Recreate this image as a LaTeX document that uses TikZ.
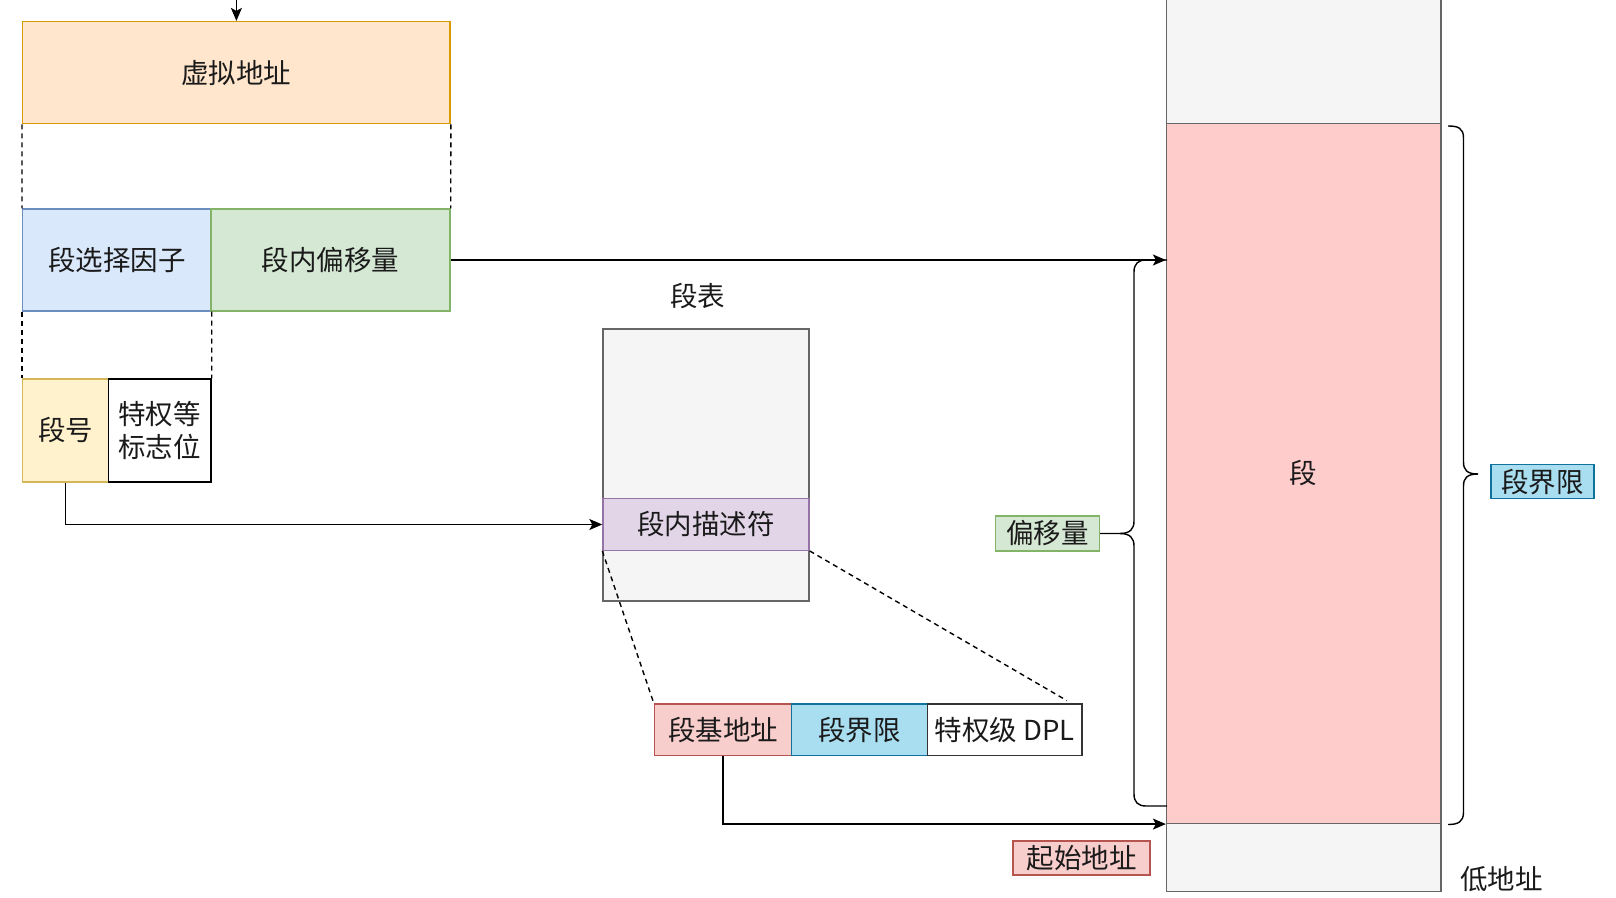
\documentclass[tikz,border=0pt]{standalone}
\usepackage{fontspec}
\setmainfont{Noto Sans CJK SC}
\usetikzlibrary{arrows.meta,calc}
\definecolor{orF}{HTML}{FFE6CC}\definecolor{orD}{HTML}{D79B00}
\definecolor{blF}{HTML}{DAE8FC}\definecolor{blD}{HTML}{6C8EBF}
\definecolor{grF}{HTML}{D5E8D4}\definecolor{grD}{HTML}{82B366}
\definecolor{yeF}{HTML}{FFF2CC}\definecolor{yeD}{HTML}{D6B656}
\definecolor{gyF}{HTML}{F5F5F5}\definecolor{gyD}{HTML}{666666}
\definecolor{puF}{HTML}{E1D5E7}\definecolor{puD}{HTML}{9673A6}
\definecolor{rdF}{HTML}{F8CECC}\definecolor{rdD}{HTML}{B85450}
\definecolor{cyF}{HTML}{A9DDF0}\definecolor{cyD}{HTML}{10739E}
\definecolor{pkF}{HTML}{FFCCCC}
\definecolor{txt}{HTML}{1A1A1A}
\begin{document}
\begin{tikzpicture}[x=1pt,y=-1pt,
  box/.style={draw, line width=1.4pt, inner sep=0pt, text=txt,
    font=\fontsize{27.5}{33}\selectfont, align=center},
  tag/.style={box, line width=1.2pt},
  conn/.style={line width=1.4pt, draw=black},
  arr/.style={conn, -{Stealth[length=13pt,width=11pt,inset=3pt]}},
  dsh/.style={line width=1.4pt, dash pattern=on 5pt off 4pt},
  lbl/.style={inner sep=0pt, text=txt, font=\fontsize{27.5}{33}\selectfont}
]
\useasboundingbox (0,0) rectangle (1616,897);

% virtual address
\node[box, fill=orF, draw=orD, minimum width=427.5pt, minimum height=102pt] (va) at (236.4,72.6) {虚拟地址};
\coordinate (vain) at (236.4,-6);
\draw[arr] (vain) -- (va.north);

\node[box, fill=blF, draw=blD, minimum width=188.3pt, minimum height=102pt] (sel) at (116.9,260) {段选择因子};
\node[box, fill=grF, draw=grD, minimum width=239pt, minimum height=102pt] (off) at (330.5,260) {段内偏移量};

\node[box, fill=yeF, draw=yeD, minimum width=85.5pt, minimum height=103pt] (segno) at (65.5,430.5) {段号};
\node[box, fill=white, draw=black, minimum width=102.8pt, minimum height=103pt] (priv) at (159.6,430.5) {特权等\\标志位};

\draw[dsh] (va.south west) -- (sel.north west);
\draw[dsh] (va.south east) -- (off.north east);
\draw[dsh] (sel.south west) -- (segno.north west);
\draw[dsh] (sel.south east) -- (priv.north east);

% segment table
\node[lbl] (tlab) at (697.7,295.8) {段表};
\node[box, fill=gyF, draw=gyD, minimum width=206pt, minimum height=272pt] (table) at (706,464.8) {};
\node[box, fill=puF, draw=puD, minimum width=206pt, minimum height=51.5pt] (desc) at (706,524.5) {段内描述符};

\draw[arr] (segno.south) |- (desc.west);

% descriptor fields
\node[box, fill=rdF, draw=rdD, minimum width=137pt, minimum height=51.4pt] (base) at (723,729.7) {段基地址};
\node[box, fill=cyF, draw=cyD, minimum width=136pt, minimum height=51.4pt] (lim) at (859.5,729.7) {段界限};
\node[box, fill=white, draw=black!80, minimum width=154.5pt, minimum height=51.4pt] (dpl) at (1004.7,729.7) {特权级 DPL};

\coordinate (dplend) at (1066.7,700.5);
\draw[dsh] (desc.south west) -- (base.north west);
\draw[dsh] (desc.south east) -- (dplend);

% memory
\node[box, fill=gyF, draw=gyD, minimum width=274.2pt, minimum height=133.7pt] (memtop) at (1303.7,56.85) {};
\node[box, fill=pkF, draw=gyD, minimum width=274.2pt, minimum height=699.7pt] (memseg) at (1303.7,473.5) {段};
\node[box, fill=gyF, draw=gyD, minimum width=274.2pt, minimum height=68pt] (membot) at (1303.7,857.5) {};

\draw[arr] (off.east) -- (off.east -| memseg.west);
\draw[arr] (base.south) |- (memseg.south west);

% labels
\node[tag, fill=grF, draw=grD, minimum width=104pt, minimum height=35pt] (offlab) at (1047.6,533.5) {偏移量};
\node[tag, fill=cyF, draw=cyD, minimum width=103pt, minimum height=34pt] (limlab) at (1542.5,481.8) {段界限};
\node[tag, fill=rdF, draw=rdD, minimum width=137pt, minimum height=34pt] (startlab) at (1081.5,858) {起始地址};
\node[lbl] (low) at (1501.6,879) {低地址};

% left brace
\draw[conn] (1167,260) -- (1146,260) .. controls (1138,260) and (1134,264) .. (1134,272)
  -- (1134,521) .. controls (1134,529) and (1130,533.5) .. (1120,533.5) -- (offlab.east);
\draw[conn] (1120,533.5) .. controls (1130,533.5) and (1134,538) .. (1134,546)
  -- (1134,794) .. controls (1134,802) and (1138,806) .. (1146,806) -- (1167,806);

% right brace
\draw[conn] (1448,126) .. controls (1458,126) and (1463.5,128) .. (1463.5,138)
  -- (1463.5,462) .. controls (1463.5,470) and (1467,474) .. (1478,474);
\draw[conn] (1478,474) .. controls (1467,474) and (1463.5,478) .. (1463.5,486)
  -- (1463.5,812) .. controls (1463.5,822) and (1458,824.5) .. (1448,824.5);
\end{tikzpicture}
\end{document}
